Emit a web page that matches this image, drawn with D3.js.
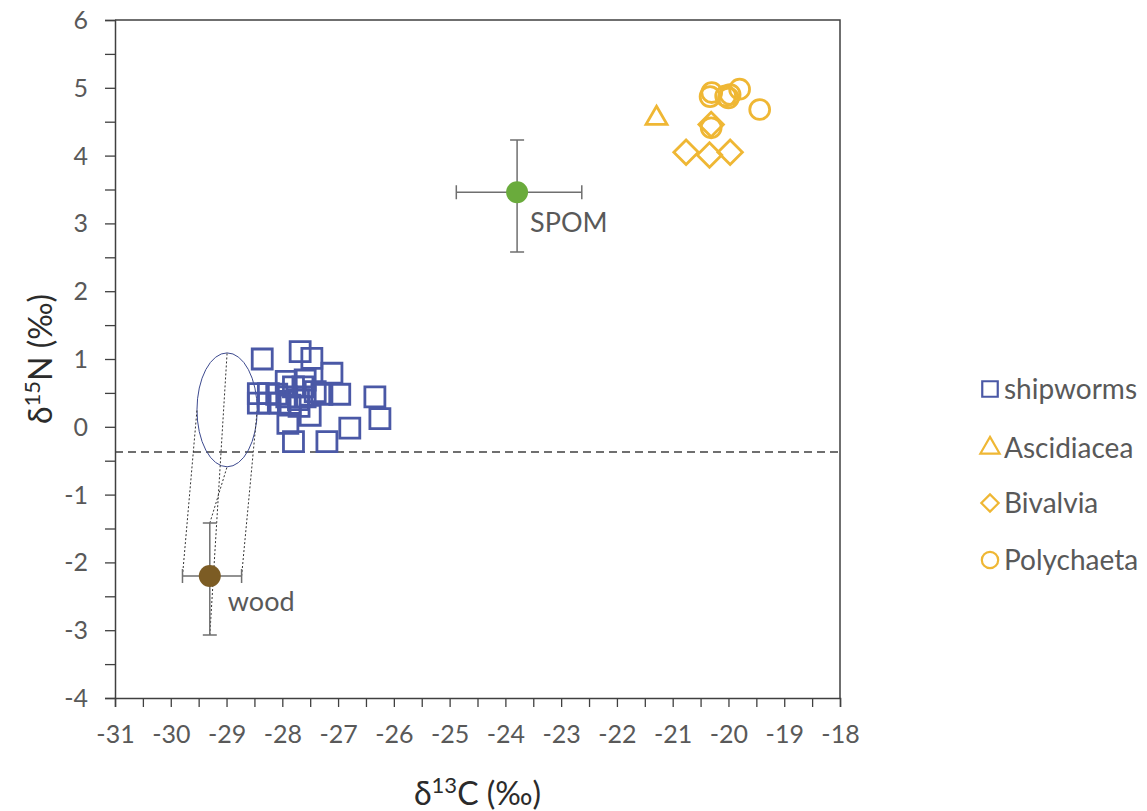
<!DOCTYPE html>
<html lang="en">
<head>
    <meta charset="UTF-8">
    <title>d13C vs d15N</title>
    <script src="https://cdn.jsdelivr.net/npm/d3@7"></script>
    <style>
        body { margin: 0; background: #fff; }
        text { font-family: Lato, "Open Sans", sans-serif; }
    </style>
</head>
<body>
    <script>
    // data
    var shipwormC = [-28.36, -27.68, -27.47, -27.11, -27.93, -27.59, -26.97, -26.34, -26.25, -26.79,
                     -27.20, -27.80, -27.90, -27.50, -27.29, -28.43, -28.43, -28.25, -28.25, -28.04,
                     -27.80, -27.71, -27.92, -27.63, -27.59, -27.41, -27.86, -28.10, -27.70];
    var shipwormN = [1.00, 1.11, 1.01, 0.79, 0.67, 0.69, 0.48, 0.44, 0.12, -0.02,
                     -0.22, -0.22, 0.05, 0.17, 0.48, 0.49, 0.35, 0.49, 0.35, 0.35,
                     0.59, 0.40, 0.44, 0.59, 0.44, 0.52, 0.32, 0.48, 0.30];
    var ascidC = [-21.29];
    var ascidN = [4.55];
    var bivalC = [-20.76, -20.34, -19.97, -20.31];
    var bivalN = [4.05, 4.01, 4.05, 4.46];
    var polyC = [-20.30, -20.33, -20.05, -19.97, -20.00, -19.80, -19.44, -20.31];
    var polyN = [4.93, 4.87, 4.88, 4.90, 4.85, 4.98, 4.68, 4.41];

    // sources: mean, error bar low / high
    var sourceNames = ["SPOM", "wood"];
    var sourceC = [-23.79, -29.30];
    var sourceN = [3.46, -2.20];
    var sourceCLow = [-24.88, -29.79];
    var sourceCHigh = [-22.63, -28.73];
    var sourceNLow = [2.58, -3.07];
    var sourceNHigh = [4.23, -1.42];

    // shifted wood ellipse: centre and radii (data units)
    var ellipseC = -28.99, ellipseN = 0.25, ellipseRC = 0.54, ellipseRN = 0.84;
    var baselineN = -0.37;

    var xTicks = d3.range(-31, -17.9, 0.5);
    var yTicks = d3.range(-4, 6.1, 0.5);

    var width = 1147, height = 811;
    var mLeft = 115, mRight = 840, mTop = 20, mBottom = 698;
    var blue = "#4a58a6", yellow = "#efb734", grey = "#595959";

    var svg = d3.select("body").append("svg").attr("width", width).attr("height", height);

    var x = d3.scaleLinear().domain([-31, -18]).range([mLeft, mRight]);
    var y = d3.scaleLinear().domain([-4, 6]).range([mBottom, mTop]);

    // axes
    var xAxis = svg.append("g").attr("transform", "translate(0," + mBottom + ")")
        .call(d3.axisBottom(x).tickValues(xTicks).tickSize(9)
            .tickFormat(function(d) { return Number.isInteger(d) ? String(d) : ""; }));
    xAxis.selectAll("text").attr("y", 45).attr("dy", 0)
        .attr("font-size", 25).attr("fill", grey).style("font-family", "Lato, sans-serif");

    var yAxis = svg.append("g").attr("transform", "translate(" + mLeft + ",0)")
        .call(d3.axisLeft(y).tickValues(yTicks).tickSize(10)
            .tickFormat(function(d) { return Number.isInteger(d) ? String(d) : ""; }));
    yAxis.selectAll("text").attr("x", -27).attr("dy", "0.34em")
        .attr("font-size", 25).attr("fill", grey).style("font-family", "Lato, sans-serif");

    svg.selectAll(".domain").attr("stroke", "#404040").attr("stroke-width", 1.5);
    svg.selectAll(".tick line").attr("stroke", "#404040").attr("stroke-width", 1.3);

    // top and right border
    svg.append("path")
        .attr("d", "M" + mLeft + "," + mTop + "H" + mRight + "V" + mBottom)
        .attr("fill", "none").attr("stroke", "#404040").attr("stroke-width", 1.5);

    // dashed baseline
    svg.append("line")
        .attr("x1", x(-31)).attr("x2", x(-18))
        .attr("y1", y(baselineN)).attr("y2", y(baselineN))
        .attr("stroke", "#404040").attr("stroke-width", 1.5).attr("stroke-dasharray", "8,5");

    // ellipse and dotted guide lines to wood
    svg.append("ellipse")
        .attr("cx", x(ellipseC)).attr("cy", y(ellipseN))
        .attr("rx", x(ellipseC + ellipseRC) - x(ellipseC))
        .attr("ry", y(ellipseN) - y(ellipseN + ellipseRN))
        .attr("fill", "none").attr("stroke", "#3d4a8f").attr("stroke-width", 1);

    var guides = [
        [sourceCLow[1], sourceN[1], ellipseC - ellipseRC, ellipseN],
        [sourceCHigh[1], sourceN[1], ellipseC + ellipseRC, ellipseN],
        [sourceC[1], sourceNLow[1], ellipseC, ellipseN + ellipseRN],
        [sourceC[1], sourceNHigh[1], ellipseC, ellipseN - ellipseRN]
    ];
    svg.selectAll(".guide").data(guides).enter().append("line")
        .attr("x1", function(d) { return x(d[0]); })
        .attr("y1", function(d) { return y(d[1]); })
        .attr("x2", function(d) { return x(d[2]); })
        .attr("y2", function(d) { return y(d[3]); })
        .attr("stroke", "#333").attr("stroke-width", 1).attr("stroke-dasharray", "2,2");

    // error bars
    var cap = 7;
    var src = svg.selectAll(".src").data(sourceNames).enter().append("g");
    src.append("path")
        .attr("d", function(d, i) {
            var cx = x(sourceC[i]), cy = y(sourceN[i]);
            var x0 = x(sourceCLow[i]), x1 = x(sourceCHigh[i]);
            var y0 = y(sourceNLow[i]), y1 = y(sourceNHigh[i]);
            return "M" + x0 + "," + cy + "H" + x1 +
                "M" + x0 + "," + (cy - cap) + "V" + (cy + cap) +
                "M" + x1 + "," + (cy - cap) + "V" + (cy + cap) +
                "M" + cx + "," + y0 + "V" + y1 +
                "M" + (cx - cap) + "," + y0 + "H" + (cx + cap) +
                "M" + (cx - cap) + "," + y1 + "H" + (cx + cap);
        })
        .attr("fill", "none").attr("stroke", "#6f6f6f").attr("stroke-width", 1.5);
    src.append("circle")
        .attr("cx", function(d, i) { return x(sourceC[i]); })
        .attr("cy", function(d, i) { return y(sourceN[i]); })
        .attr("r", 11)
        .attr("fill", function(d, i) { return i === 0 ? "#6aab3c" : "#7c5c24"; });
    src.append("text")
        .attr("x", function(d, i) { return x(sourceC[i]) + (i === 0 ? 13 : 18); })
        .attr("y", function(d, i) { return y(sourceN[i]) + (i === 0 ? 40 : 35); })
        .attr("font-size", 27).attr("fill", grey)
        .text(function(d) { return d; });

    // consumers
    function draw(cs, ns, type, size, color, rotate) {
        var sym = d3.symbol().type(type).size(size);
        svg.append("g").selectAll("path").data(cs).enter().append("path")
            .attr("d", sym)
            .attr("transform", function(d, i) {
                return "translate(" + x(d) + "," + y(ns[i]) + ")" + (rotate ? " rotate(45)" : "");
            })
            .attr("fill", "none").attr("stroke", color).attr("stroke-width", 2.8);
    }
    draw(shipwormC, shipwormN, d3.symbolSquare, 400, blue, false);
    draw(ascidC, ascidN, d3.symbolTriangle, 190, yellow, false);
    draw(bivalC, bivalN, d3.symbolSquare, 300, yellow, true);
    draw(polyC, polyN, d3.symbolCircle, 310, yellow, false);

    // legend
    var legendNames = ["shipworms", "Ascidiacea", "Bivalvia", "Polychaeta"];
    var legendTypes = [d3.symbolSquare, d3.symbolTriangle, d3.symbolSquare, d3.symbolCircle];
    var legendSizes = [240, 160, 150, 210];
    var legendColors = [blue, yellow, yellow, yellow];
    var legendY = [389, 448, 503, 560];
    var leg = svg.selectAll(".leg").data(legendNames).enter().append("g")
        .attr("transform", function(d, i) { return "translate(990," + legendY[i] + ")"; });
    leg.append("path")
        .attr("d", function(d, i) { return d3.symbol().type(legendTypes[i]).size(legendSizes[i])(); })
        .attr("transform", function(d, i) { return i === 2 ? "rotate(45)" : ""; })
        .attr("fill", "none").attr("stroke", function(d, i) { return legendColors[i]; })
        .attr("stroke-width", 2.2);
    leg.append("text")
        .attr("x", 14).attr("dy", "0.36em")
        .attr("font-size", 28).attr("fill", grey)
        .text(function(d) { return d; });

    // axis titles
    var xt = svg.append("text").attr("x", (mLeft + mRight) / 2).attr("y", 805)
        .attr("text-anchor", "middle").attr("font-size", 32).attr("fill", "#2b2b2b");
    xt.append("tspan").text("δ");
    xt.append("tspan").attr("font-size", 22).attr("dy", -12).text("13");
    xt.append("tspan").attr("dy", 12).text("C (‰)");

    var yt = svg.append("text")
        .attr("transform", "translate(52," + (mTop + mBottom) / 2 + ") rotate(-90)")
        .attr("text-anchor", "middle").attr("font-size", 32).attr("fill", "#2b2b2b");
    yt.append("tspan").text("δ");
    yt.append("tspan").attr("font-size", 22).attr("dy", -12).text("15");
    yt.append("tspan").attr("dy", 12).text("N (‰)");
    </script>
</body>
</html>
